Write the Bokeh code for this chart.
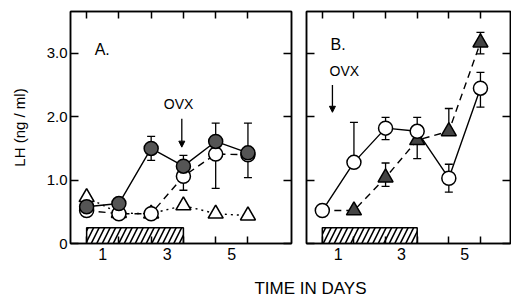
from bokeh.plotting import figure
from bokeh.models import (FixedTicker, LinearAxis, Range1d, Whisker, ColumnDataSource,
                          Label, Arrow, NormalHead, TeeHead)
from bokeh.layouts import row, column
from bokeh.embed import file_html
from bokeh.resources import INLINE

FONT = "Liberation Sans"

# ---------------- data ----------------
days = [0.5, 1.5, 2.5, 3.5, 4.5, 5.5]
x_tick_labels = [1, 3, 5]
y_ticks = [0, 1, 2, 3]
y_tick_labels = ["0", "1.0", "2.0", "3.0"]

# treatment bar (hatched)
bar_start = [0.5]
bar_end = [3.5]
bar_top = [0.25]

# Panel A
a_filled = [0.58, 0.63, 1.50, 1.22, 1.61, 1.43]
a_filled_hi = [None, None, 1.69, 1.39, 1.90, 1.90]
a_filled_lo = [None, None, 1.31, None, None, None]
a_open = [0.52, 0.47, 0.47, 1.06, 1.41, 1.40]
a_open_lo = [None, None, None, 0.84, 0.87, 1.04]
a_tri = [0.73, 0.48, 0.47, 0.60, 0.47, 0.44]
a_ovx_day = 3.45

# Panel B
b_open = [0.52, 1.28, 1.82, 1.77, 1.03, 2.45]
b_open_hi = [None, 1.91, 1.99, 1.99, 1.25, 2.70]
b_open_lo = [None, None, 1.64, None, 0.81, 2.15]
b_tri = [0.52, 0.52, 1.04, 1.63, 1.77, 3.17]
b_tri_hi = [None, None, 1.27, None, 2.13, 3.33]
b_tri_lo = [None, None, 0.90, 1.34, None, 2.99]
b_ovx_day = 0.82


def add_err(p, xs, ys, ends, up=True):
    pts = [(x, y, e) for x, y, e in zip(xs, ys, ends) if e is not None]
    if up:
        src = ColumnDataSource(dict(x=[a for a, _, _ in pts], lo=[b for _, b, _ in pts],
                                    hi=[c for _, _, c in pts]))
    else:
        src = ColumnDataSource(dict(x=[a for a, _, _ in pts], lo=[c for _, _, c in pts],
                                    hi=[b for _, b, _ in pts]))
    head = TeeHead(size=8, line_width=1.3, line_color="black")
    w = Whisker(source=src, base="x", lower="lo", upper="hi", dimension="height",
                line_width=1.3, line_color="black",
                upper_head=head if up else None, lower_head=None if up else head)
    p.add_layout(w)


def blank(ticks):
    return {t: "" for t in ticks}


def make_panel(width, xmax, bl, br, ylabels):
    p = figure(width=width, height=268, x_range=Range1d(0, xmax), y_range=Range1d(0, 3.66),
               output_backend="svg", toolbar_location=None,
               x_axis_location=None, y_axis_location=None,
               min_border_left=bl, min_border_right=br, min_border_top=11, min_border_bottom=25,
               outline_line_color="black", outline_line_width=1.5)
    p.grid.visible = False

    bottom = LinearAxis(ticker=FixedTicker(ticks=x_tick_labels, minor_ticks=days),
                        major_tick_in=0, major_tick_out=0, minor_tick_in=7, minor_tick_out=0,
                        minor_tick_line_width=1.5, axis_line_width=1.5,
                        major_label_text_font=FONT, major_label_text_font_size="16px",
                        major_label_text_color="black", major_label_standoff=4)
    p.add_layout(bottom, "below")
    top = LinearAxis(ticker=FixedTicker(ticks=days), major_tick_in=7, major_tick_out=0,
                     major_tick_line_width=1.5, axis_line_width=1.5,
                     major_label_overrides=blank(days), major_label_standoff=0)
    p.add_layout(top, "above")
    left = LinearAxis(ticker=FixedTicker(ticks=y_ticks), major_tick_in=8, major_tick_out=0,
                      major_tick_line_width=1.5, axis_line_width=1.5,
                      major_label_text_font=FONT, major_label_text_font_size="15px",
                      major_label_text_color="black", major_label_standoff=3)
    if ylabels:
        left.major_label_overrides = {t: s for t, s in zip(y_ticks, y_tick_labels)}
        left.axis_label = "LH (ng / ml)"
        left.axis_label_text_font = FONT
        left.axis_label_text_font_size = "15px"
        left.axis_label_text_font_style = "normal"
        left.axis_label_text_color = "black"
        left.axis_label_standoff = 16
    else:
        left.major_label_overrides = blank(y_ticks)
        left.major_label_standoff = 0
    p.add_layout(left, "left")
    right = LinearAxis(ticker=FixedTicker(ticks=y_ticks), major_tick_in=8, major_tick_out=0,
                       major_tick_line_width=1.5, axis_line_width=1.5,
                       major_label_overrides=blank(y_ticks), major_label_standoff=0)
    p.add_layout(right, "right")

    p.quad(left=bar_start, right=bar_end, bottom=[0], top=bar_top, fill_color="white",
           line_color="black", line_width=1.5, hatch_pattern="/", hatch_color="black",
           hatch_scale=11, hatch_weight=1.6)
    return p


# ---------------- Panel A ----------------
pA = make_panel(298, 6.85, 70, 7, True)
add_err(pA, days, a_filled, a_filled_hi, up=True)
add_err(pA, days, a_filled, a_filled_lo, up=False)
add_err(pA, days, a_open, a_open_lo, up=False)
pA.line(days, a_tri, line_color="black", line_width=1.4, line_dash="2 4")
pA.line(days, a_open, line_color="black", line_width=1.4, line_dash="7 5")
pA.line(days, a_filled, line_color="black", line_width=1.4)
pA.scatter(days, a_tri, marker="triangle", size=15, fill_color="white", line_color="black",
           line_width=1.6)
pA.scatter(days, a_open, marker="circle", size=14, fill_color="white", line_color="black",
           line_width=1.5)
pA.scatter(days, a_filled, marker="circle", size=14, fill_color="#555555", line_color="black",
           line_width=1.5)
pA.add_layout(Label(x=0.75, y=2.93, text="A.", text_font=FONT, text_font_size="16px",
                    text_color="black"))
pA.add_layout(Label(x=a_ovx_day - 0.1, y=2.07, text="OVX", text_font=FONT,
                    text_font_size="14px", text_align="center", text_color="black"))
pA.add_layout(Arrow(end=NormalHead(size=6, fill_color="black", line_color="black"),
                    x_start=a_ovx_day, y_start=1.97, x_end=a_ovx_day, y_end=1.52,
                    line_width=1.3, line_color="black"))

# ---------------- Panel B ----------------
pB = make_panel(213, 6.45, 8, 1, False)
add_err(pB, days, b_open, b_open_hi, up=True)
add_err(pB, days, b_open, b_open_lo, up=False)
add_err(pB, days, b_tri, b_tri_hi, up=True)
add_err(pB, days, b_tri, b_tri_lo, up=False)
pB.line(days, b_tri, line_color="black", line_width=1.4, line_dash="7 5")
pB.line(days, b_open, line_color="black", line_width=1.4)
pB.scatter(days[1:], b_tri[1:], marker="triangle", size=15, fill_color="#444444",
           line_color="black", line_width=1.5)
pB.scatter(days, b_open, marker="circle", size=14, fill_color="white", line_color="black",
           line_width=1.5)
pB.add_layout(Label(x=0.76, y=3.0, text="B.", text_font=FONT, text_font_size="16px",
                    text_color="black"))
pB.add_layout(Label(x=0.73, y=2.6, text="OVX", text_font=FONT, text_font_size="14px",
                    text_color="black"))
pB.add_layout(Arrow(end=NormalHead(size=6, fill_color="black", line_color="black"),
                    x_start=b_ovx_day, y_start=2.5, x_end=b_ovx_day, y_end=2.07,
                    line_width=1.3, line_color="black"))

# ---------------- shared x title ----------------
pT = figure(width=511, height=31, output_backend="svg", toolbar_location=None,
            x_axis_location=None, y_axis_location=None, min_border=0,
            outline_line_color=None, x_range=Range1d(0, 1), y_range=Range1d(0, 1))
pT.grid.visible = False
pT.add_layout(Label(x=310, y=11, x_units="screen", y_units="screen", text="TIME IN DAYS",
                    text_font=FONT, text_font_size="17px", text_align="center",
                    text_baseline="middle", text_color="black"))

layout = column(row(pA, pB), pT)

with open("out.html", "w") as f:
    f.write(file_html(layout, INLINE))
